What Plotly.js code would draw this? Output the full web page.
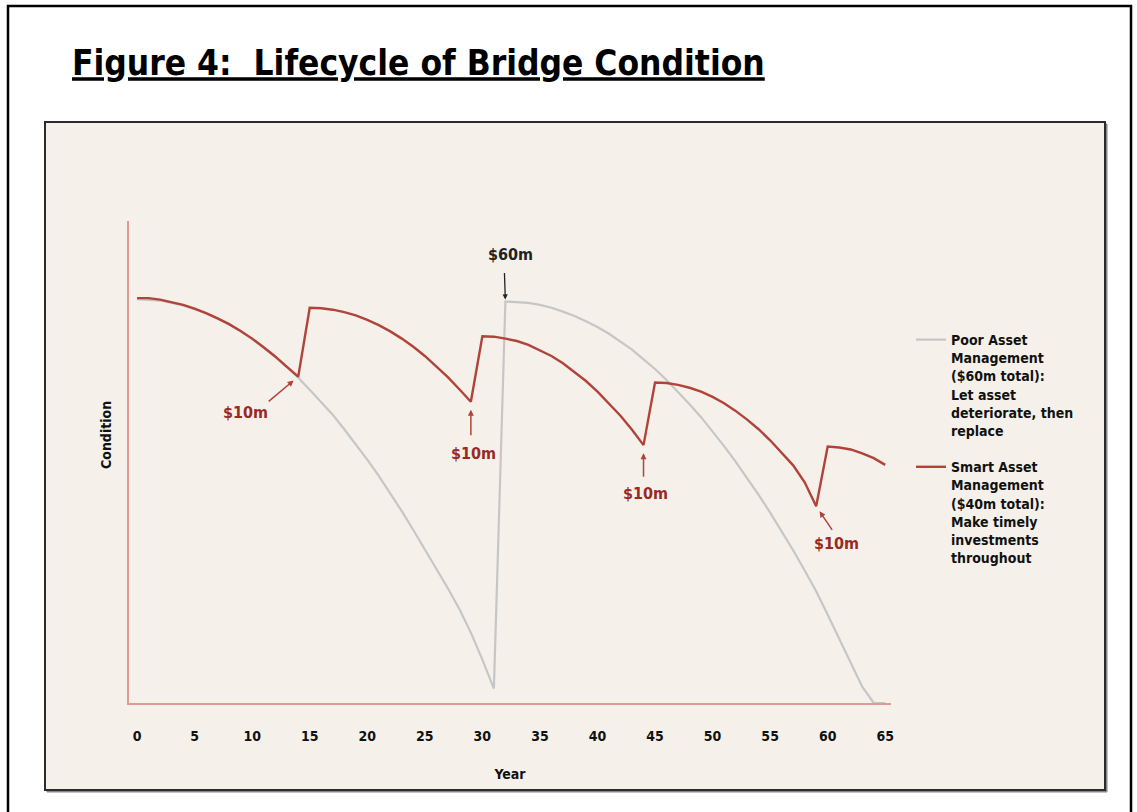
<!DOCTYPE html>
<html>
<head>
<meta charset="utf-8">
<script src="https://cdn.plot.ly/plotly-3.0.1.min.js"></script>
<style>
  html, body { margin: 0; padding: 0; background: #ffffff; }
  #chart { width: 1137px; height: 812px; }
</style>
</head>
<body>
<div id="chart"></div>
<script>
// ---- Data ----
const years = [0,1,2,3,4,5,6,7,8,9,10,11,12,13,14,15,16,17,18,19,20,21,22,23,24,25,26,27,28,29,30,31,32,
  33,34,35,36,37,38,39,40,41,42,43,44,45,46,47,48,49,50,51,52,53,54,55,56,57,58,59,60,61,62,63,64,65];

// Poor Asset Management: deteriorate, then replace at year 32
const poorCondition = [83.8,83.7,83.5,83.0,82.5,81.7,80.8,79.7,78.5,77.1,75.5,73.7,71.8,69.7,67.5,65.0,
  62.5,59.8,56.8,53.7,50.5,47.1,43.5,39.8,35.9,31.9,27.9,23.8,19.5,14.6,9.0,3.0,
  83.3,83.2,83.0,82.6,82.0,81.2,80.3,79.2,78.0,76.6,75.0,73.3,71.3,69.3,67.0,64.6,62.0,59.3,56.4,
  53.3,50.1,46.7,43.2,39.5,35.7,31.7,27.5,23.2,18.3,13.4,8.5,3.4,0.0,0.0];

// Smart Asset Management: timely $10m investments
const smartCondition = [84.0,84.0,83.7,83.2,82.6,81.8,80.9,79.8,78.6,77.2,75.6,73.8,71.9,69.8,67.7,
  82.0,81.9,81.6,81.1,80.4,79.5,78.4,77.1,75.6,73.9,72.0,69.9,67.6,65.1,62.5,
  76.1,76.0,75.6,75.1,74.3,73.2,72.0,70.5,68.7,66.8,64.6,62.2,59.6,56.7,53.5,
  66.5,66.4,66.0,65.4,64.6,63.5,62.2,60.6,58.8,56.8,54.5,52.0,49.3,45.8,40.8,
  53.2,53.0,52.6,51.8,50.8,49.4];

const xTickVals = [0,5,10,15,20,25,30,35,40,45,50,55,60,65];
const xTickText = ['0','5','10','15','20','25','30','35','40','45','50','55','60','65'];

const seriesNames = [
  'Poor Asset<br>Management<br>($60m total):<br>Let asset<br>deteriorate, then<br>replace',
  'Smart Asset<br>Management<br>($40m total):<br>Make timely<br>investments<br>throughout'
];

// Investment annotations
const investYears = [14, 29, 44, 59];
const investLabels = ['$10m', '$10m', '$10m', '$10m'];
const replaceYear = 32;
const replaceLabel = '$60m';

// ---- Styling ----
const NARROW = '"Liberation Sans Narrow", "Arial Narrow", "DejaVu Sans Condensed", sans-serif';
const RED = '#b1433b';
const LABEL_RED = '#9c2824';
const GREY = '#c6c6c6';
const AXIS = '#dc9b93';

// plot area in pixels: x 129..891, y 221..703
const L = 129, R = 891, T = 221, B = 703;
const px = v => (v - L) / (R - L);
const py = v => (B - v) / (B - T);

const traces = [
  {
    x: years, y: poorCondition, type: 'scatter', mode: 'lines',
    name: seriesNames[0], legendgroup: 'poor',
    line: { color: GREY, width: 2.2 }
  },
  {
    x: years, y: smartCondition, type: 'scatter', mode: 'lines',
    name: seriesNames[1], legendgroup: 'smart',
    line: { color: RED, width: 2.4 }
  }
];

const arrowGeom = [
  { ax: -31, ay: 26, standoff: 6, lx: -53, ly: -36 },
  { ax: 0, ay: 35, standoff: 8, lx: 3, ly: -52 },
  { ax: 0, ay: 33, standoff: 8, lx: 2, ly: -48 },
  { ax: 17, ay: 25, standoff: 6, lx: 20, ly: -37 }
];

const annotations = [];
investYears.forEach((yr, i) => {
  const g = arrowGeom[i];
  annotations.push({
    x: yr, y: smartCondition[years.indexOf(yr)], xref: 'x', yref: 'y',
    text: '', showarrow: true, ax: g.ax, ay: g.ay, standoff: g.standoff,
    arrowcolor: RED, arrowwidth: 1.5, arrowhead: 2, arrowsize: 0.8
  });
  annotations.push({
    x: yr, y: smartCondition[years.indexOf(yr)], xref: 'x', yref: 'y',
    text: investLabels[i], showarrow: false, xshift: g.lx, yshift: g.ly,
    font: { family: NARROW, size: 16, color: LABEL_RED, weight: 'bold' }
  });
});
annotations.push({
  x: replaceYear, y: poorCondition[years.indexOf(replaceYear)], xref: 'x', yref: 'y',
  text: '', showarrow: true, ax: -1, ay: -30, standoff: 2,
  arrowcolor: '#222', arrowwidth: 1.3, arrowhead: 2, arrowsize: 0.8
});
annotations.push({
  x: replaceYear, y: poorCondition[years.indexOf(replaceYear)], xref: 'x', yref: 'y',
  text: replaceLabel, showarrow: false, xshift: 5, yshift: 47,
  font: { family: NARROW, size: 16, color: '#222', weight: 'bold' }
});
annotations.push({
  xref: 'paper', yref: 'paper', x: px(96), y: py(435), text: 'Condition',
  textangle: -90, showarrow: false,
  font: { family: NARROW, size: 14, color: '#111', weight: 'bold' }
});

const shapes = [
  // outer frame
  { type: 'rect', xref: 'paper', yref: 'paper', layer: 'below',
    x0: px(8), x1: px(1131), y0: py(830), y1: py(6),
    line: { color: '#000', width: 2.5 }, fillcolor: 'rgba(0,0,0,0)' },
  // inner panel shadow
  { type: 'rect', xref: 'paper', yref: 'paper', layer: 'below',
    x0: px(47), x1: px(1107), y0: py(792), y1: py(124),
    line: { color: '#888', width: 1 }, fillcolor: '#888' },
  // inner panel
  { type: 'rect', xref: 'paper', yref: 'paper', layer: 'below',
    x0: px(45), x1: px(1105), y0: py(790), y1: py(122),
    line: { color: '#2b2b2b', width: 2 }, fillcolor: '#f5f1ea' }
];

const layout = {
  width: 1137, height: 812,
  margin: { l: L, r: 1137 - R, t: T, b: 812 - B, pad: 0 },
  paper_bgcolor: '#ffffff',
  plot_bgcolor: 'rgba(0,0,0,0)',
  title: {
    text: '<u>Figure 4:&nbsp; Lifecycle of Bridge Condition</u>',
    font: { family: '"DejaVu Sans Condensed", "DejaVu Sans", sans-serif', size: 35, color: '#000', weight: 'bold' },
    xref: 'container', yref: 'container',
    x: 72 / 1137, xanchor: 'left', y: 1 - 63 / 812, yanchor: 'middle'
  },
  xaxis: {
    range: [-0.7, 65.5], showgrid: false, zeroline: false,
    showline: true, linecolor: AXIS, linewidth: 2,
    tickmode: 'array', tickvals: xTickVals, ticktext: xTickText, ticks: '',
    ticklabelstandoff: 19,
    tickfont: { family: NARROW, size: 14, color: '#111', weight: 'bold' },
    title: { text: 'Year', standoff: 26, font: { family: NARROW, size: 14, color: '#111', weight: 'bold' } },
    fixedrange: true
  },
  yaxis: {
    range: [0, 100], showgrid: false, zeroline: false,
    showline: true, linecolor: AXIS, linewidth: 2,
    showticklabels: false, ticks: '', fixedrange: true
  },
  showlegend: true,
  legend: {
    x: px(911), y: py(324), xanchor: 'left', yanchor: 'top',
    bgcolor: 'rgba(0,0,0,0)', borderwidth: 0,
    valign: 'top', tracegroupgap: 15, traceorder: 'grouped',
    font: { family: NARROW, size: 14, color: '#111', weight: 'bold' }
  },
  annotations: annotations,
  shapes: shapes
};

Plotly.newPlot('chart', traces, layout, { displayModeBar: false, staticPlot: true });
</script>
</body>
</html>
